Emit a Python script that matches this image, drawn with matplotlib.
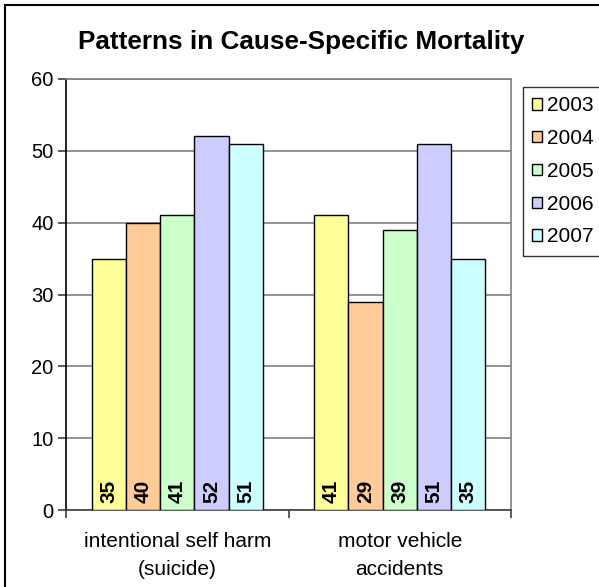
import numpy as np
import matplotlib
matplotlib.use("Agg")
import matplotlib.pyplot as plt
from matplotlib.patches import Rectangle

plt.rcParams['font.family'] = ['Liberation Sans', 'DejaVu Sans']

categories = ["intentional self harm\n(suicide)", "motor vehicle\naccidents"]
years = ["2003", "2004", "2005", "2006", "2007"]
values = {
    "2003": [35, 41],
    "2004": [40, 29],
    "2005": [41, 39],
    "2006": [52, 51],
    "2007": [51, 35],
}
colors = ["#FFFF99", "#FFCC99", "#CCFFCC", "#CCCCFF", "#CCFFFF"]

W, H = 599, 587
fig = plt.figure(figsize=(W / 100, H / 100), dpi=100)
ax = fig.add_axes([66 / W, 1 - 510 / H, (511 - 66) / W, (510 - 79) / H])

# outer chart frame
fig.patches.append(Rectangle((5 / W, -0.1), 1.0, 1 - 5 / H + 0.1,
                             transform=fig.transFigure, fill=False,
                             edgecolor="black", linewidth=1.5))

x = np.arange(len(categories))
bw = 1 / 6.5
for i, yr in enumerate(years):
    pos = x + (i - 2) * bw
    ax.bar(pos, values[yr], width=bw, color=colors[i], edgecolor="black",
           linewidth=1.0, label=yr, zorder=3)
    for p, v in zip(pos, values[yr]):
        ax.text(p, 1.0, str(v), rotation=90, ha="center", va="bottom",
                fontsize=15, fontweight="bold", zorder=4)

ax.set_xlim(-0.5, 1.5)
ax.set_ylim(0, 60)
ax.set_yticks(range(0, 61, 10))
ax.yaxis.grid(True, color="#808080", linewidth=1.2, zorder=0)
ax.set_axisbelow(True)
ax.set_xticks([-0.5, 0.5, 1.5])
ax.set_xticklabels([])
ax.set_xticks(x, minor=True)
ax.set_xticklabels(categories, minor=True, fontsize=15, linespacing=1.6)
ax.tick_params(axis="x", which="minor", length=0, pad=16)
ax.tick_params(axis="x", which="major", length=6, width=1.2, color="#404040")
ax.tick_params(axis="y", labelsize=14.5, length=6, width=1.2, color="#404040", pad=3)
ax.spines["top"].set_color("#808080")
ax.spines["right"].set_color("#808080")
ax.spines["left"].set_color("black")
ax.spines["bottom"].set_color("#404040")
for s in ax.spines.values():
    s.set_linewidth(1.2)

fig.text(301 / W, 1 - 42 / H, "Patterns in Cause-Specific Mortality",
         ha="center", va="center", fontsize=18.8, fontweight="bold")

leg = fig.legend(loc="upper left", bbox_to_anchor=(523 / W, 1 - 87 / H),
                 fontsize=15, frameon=True, fancybox=False, edgecolor="black",
                 handlelength=0.45, handleheight=0.45, handletextpad=0.25,
                 labelspacing=0.66, borderpad=0.45, borderaxespad=0)
leg.get_frame().set_linewidth(1.0)

fig.savefig("out.png", dpi=100, facecolor="white")
